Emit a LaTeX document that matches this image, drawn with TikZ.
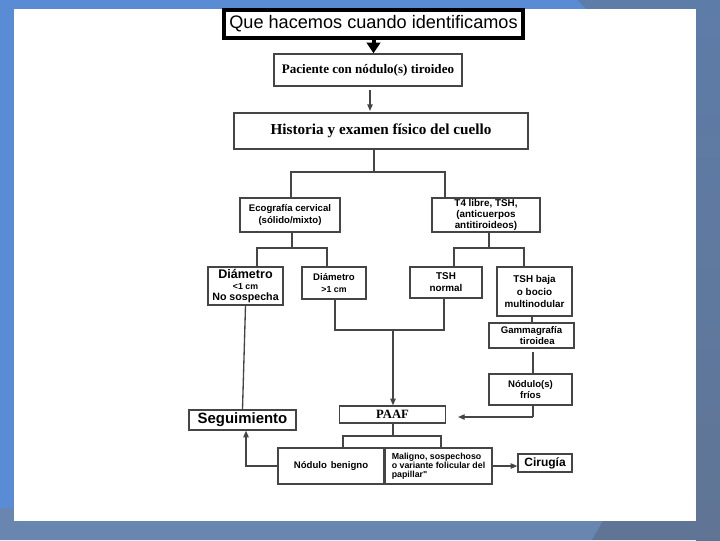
\documentclass[tikz,border=0pt]{standalone}
\usepackage{fontspec}
\setmainfont{Liberation Serif}
\newfontfamily\arialf{Liberation Sans}
\usetikzlibrary{arrows.meta}
\definecolor{bgblue}{HTML}{5A8CD5}
\definecolor{bgslate}{HTML}{5E7CA8}
\definecolor{bgslatelight}{HTML}{6886B0}
\definecolor{bgslatedark}{HTML}{607595}
\definecolor{ln}{HTML}{454545}
\begin{document}
\begin{tikzpicture}[x=0.75pt,y=-0.75pt,
  box/.style={draw=ln, line width=1pt, fill=white, inner sep=0pt, align=center},
  wh/.style 2 args={minimum width=#1*0.75pt, minimum height=#2*0.75pt},
  sm/.style={font=\arialf\bfseries\fontsize{7.2}{8.6}\selectfont},
  conn/.style={draw=ln, line width=1pt},
  arr/.style={conn, -{Triangle[length=5pt,width=4pt]}}]
\useasboundingbox (0,0) rectangle (720,540);
% background frame
\fill[bgslate] (0,0) rectangle (720,540);
\shade[top color=bgslate, bottom color=bgslatedark] (696,0) rectangle (720,540);
\fill[bgblue] (0,0) -- (577,0) -- (586,9) -- (14,9) -- (14,508) -- (0,508) -- cycle;
\fill[bgslatelight] (0,508) -- (14,508) -- (14,521) -- (603,521) -- (592,540) -- (0,540) -- cycle;
\fill[bgslatedark] (603,521) -- (696,521) -- (720,521) -- (720,540) -- (592,540) -- cycle;
\fill[white] (14,9) rectangle (696,521);

% nodes
\node[draw=black, line width=3pt, fill=white, inner sep=0pt, wh={299}{28},
      font=\arialf\fontsize{13.6}{15}\selectfont] (title) at (373.5,24) {Que hacemos cuando identificamos};
\node[box, wh={188}{32}, font=\bfseries\fontsize{9.8}{11}\selectfont] (pac) at (368,70) {Paciente con nódulo(s) tiroideo};
\node[box, wh={294}{36}, font=\bfseries\fontsize{11.4}{13}\selectfont] (hist) at (381,131) {Historia y examen físico del cuello};
\node[box, sm, wh={100}{34}] (eco) at (290,215) {Ecografía cervical\\(sólido/mixto)};
\node[box, sm, wh={108}{34}, font=\arialf\bfseries\fontsize{7.4}{8.3}\selectfont] (t4) at (486,215) {T4 libre, TSH,\\(anticuerpos\\antitiroideos)};
\node[box, sm, wh={75}{38}] (d1) at (245.5,286) {{\fontsize{9.4}{9.4}\selectfont Diámetro}\\[-0.5pt]{\fontsize{6.6}{8}\selectfont <1 cm}\\[-0.5pt]{\fontsize{8}{9}\selectfont No sospecha}};
\node[box, sm, wh={64}{32}] (d2) at (334,283) {Diámetro\\{\fontsize{6.6}{8}\selectfont >1 cm}};
\node[box, sm, wh={72}{31}, font=\arialf\bfseries\fontsize{7.4}{9}\selectfont] (tshn) at (446,282.5) {TSH\\normal};
\node[box, sm, wh={75}{49}, font=\arialf\bfseries\fontsize{7.4}{9.2}\selectfont] (tshb) at (534.5,291.5) {TSH baja\\o bocio\\multinodular};
\node[box, sm, wh={85}{25}] (gam) at (531.5,335.5) {Gammagrafía\\\hspace*{1.2em}tiroidea};
\node[box, sm, wh={83}{31}] (fri) at (530.5,389.5) {Nódulo(s)\\fríos};
\node[box, wh={106}{17}, font=\bfseries\fontsize{9.5}{11}\selectfont] (paaf) at (392.5,414.5) {PAAF};
\node[box, wh={107}{20}, font=\arialf\bfseries\fontsize{11.2}{13}\selectfont] (seg) at (242.5,420) {Seguimiento};
\node[box, sm, wh={106}{36}] (ben) at (331,466) {Nódulo\hspace{0.4em}benigno};
\node[box, wh={107}{36}, align=left, font=\arialf\bfseries\fontsize{6.6}{6.8}\selectfont] (mal) at (438.5,466) {Maligno, sospechoso\\o variante folicular del\\papillar"};
\node[box, wh={54}{18}, font=\arialf\bfseries\fontsize{9}{11}\selectfont] (cir) at (545,463) {Cirugía};

% coordinates for connector junctions
\coordinate (p1) at (370,90);
\coordinate (p2) at (370,111);
\coordinate (h1) at (374,172);
\coordinate (h2) at (291,172);
\coordinate (h3) at (445,172);
\coordinate (e1) at (292,248);
\coordinate (e2) at (257,248);
\coordinate (e3) at (327,248);
\coordinate (t1) at (489,248);
\coordinate (t2) at (454,248);
\coordinate (t3) at (524,248);
\coordinate (g0) at (532,320);
\coordinate (g1) at (533,352);
\coordinate (f1) at (533,417);
\coordinate (f2) at (458,417);
\coordinate (m1) at (335,330);
\coordinate (m2) at (444,330);
\coordinate (m3) at (393,330);
\coordinate (q1) at (393,436);
\coordinate (q2) at (343,436);
\coordinate (q3) at (441,436);
\coordinate (b1) at (246,466);

% connectors
\draw[black, line width=3pt, -{Triangle[length=8pt,width=10pt]}] (title.south) -- (pac.north -| title.south);
\draw[arr] (p1) -- (p2);
\draw[conn] (hist.south -| h1) -- (h1);
\draw[conn] (eco.north -| h2) -- (h2) -- (h3) -- (t4.north -| h3);
\draw[conn] (eco.south -| e1) -- (e1);
\draw[conn] (d1.north -| e2) -- (e2) -- (e3) -- (d2.north -| e3);
\draw[conn] (t4.south -| t1) -- (t1);
\draw[conn] (tshn.north -| t2) -- (t2) -- (t3) -- (tshb.north -| t3);
\draw[conn] (tshb.south -| g0) -- (gam.north -| g0);
\draw[conn] (g1) -- (fri.north -| g1);
\draw[conn] (fri.south -| f1) -- (f1);
\draw[arr] (f1) -- (f2);
\draw[conn] (d2.south -| m1) -- (m1) -- (m2) -- (tshn.south -| m2);
\draw[arr] (m3) -- (paaf.north -| m3);
\draw[conn] (d1.south) -- (seg.north);
\draw[conn] (paaf.south -| q1) -- (q1);
\draw[conn] (ben.north -| q2) -- (q2) -- (q3) -- (mal.north -| q3);
\draw[arr] (mal.east) -- (mal.east -| cir.west);
\draw[arr] (ben.west) -- (b1) -- (seg.south -| b1);
\end{tikzpicture}
\end{document}
